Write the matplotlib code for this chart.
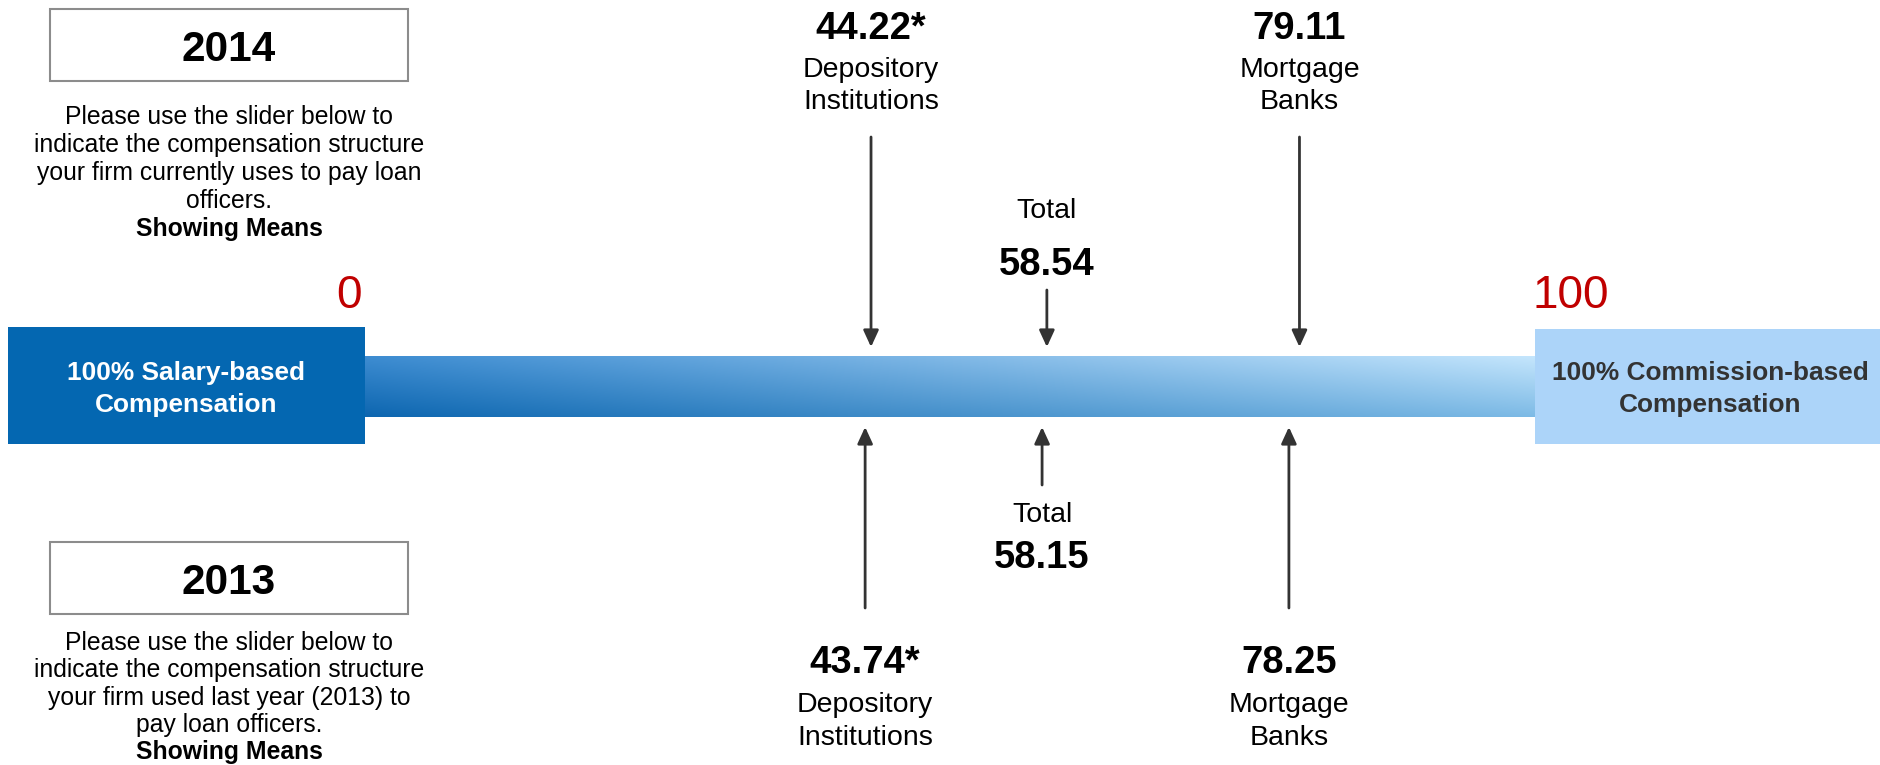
import matplotlib
matplotlib.use('Agg')
import matplotlib.pyplot as plt
from matplotlib.patches import Rectangle
import numpy as np

plt.rcParams['font.family'] = ['Liberation Sans', 'DejaVu Sans']

# survey means, 0 = all salary, 100 = all commission
groups = ['Depository\nInstitutions', 'Total', 'Mortgage\nBanks']
means_2014 = [44.22, 58.54, 79.11]
means_2013 = [43.74, 58.15, 78.25]
flagged = [True, False, False]   # significant difference marker

years = ['2014', '2013']
question_2014 = ['Please use the slider below to',
                 'indicate the compensation structure',
                 'your firm currently uses to pay loan',
                 'officers.']
question_2013 = ['Please use the slider below to',
                 'indicate the compensation structure',
                 'your firm used last year (2013) to',
                 'pay loan officers.']
left_end = '100% Salary-based\nCompensation'
right_end = '100% Commission-based\nCompensation'

W, H = 1881, 765
PX_ZERO, PX_PER_UNIT = 328, 12.28   # where the 0..100 scale sits in pixels

fig = plt.figure(figsize=(W / 100, H / 100), dpi=100)
base = fig.add_axes([0, 0, 1, 1])
base.set_xlim(0, W)
base.set_ylim(H, 0)
base.axis('off')

ax = fig.add_axes([0, 0, 1, 1], facecolor='none')
ax.set_xlim(-PX_ZERO / PX_PER_UNIT, (W - PX_ZERO) / PX_PER_UNIT)
ax.set_ylim(H, 0)
ax.axis('off')

dark = '#333333'
label_fs, value_fs, body_fs = 20.5, 27.5, 17.8

# ---- slider bar with a diagonal blue gradient ----
nx, ny = 400, 60
tx = np.linspace(0, 1, nx)[None, :, None]
ty = np.linspace(0, 1, ny)[:, None, None]
lt = np.array([0.24, 0.55, 0.82]); lb = np.array([0.05, 0.40, 0.69])
rt = np.array([0.77, 0.90, 0.99]); rb = np.array([0.49, 0.73, 0.90])
grad = (1 - tx) * ((1 - ty) * lt + ty * lb) + tx * ((1 - ty) * rt + ty * rb)
base.imshow(grad, extent=(365, 1535, 417, 356), aspect='auto', zorder=1)

# end boxes
base.add_patch(Rectangle((8, 327), 357, 117, facecolor='#0467b1', edgecolor='none', zorder=2))
base.add_patch(Rectangle((1535, 329), 346, 115, facecolor='#acd4f9', edgecolor='none', zorder=2))
for i, line in enumerate(left_end.split('\n')):
    base.text(186, 380 + 32 * i, line, ha='center', va='baseline', fontsize=18.9,
              fontweight='bold', color='white', zorder=3)
for i, line in enumerate(right_end.split('\n')):
    base.text(1710, 380 + 32 * i, line, ha='center', va='baseline', fontsize=18.9,
              fontweight='bold', color=dark, zorder=3)
base.text(362, 308, '0', ha='right', va='baseline', fontsize=33, color='#c00000')
base.text(1533, 308, '100', ha='left', va='baseline', fontsize=33, color='#c00000')

# ---- year boxes and question text ----
for year, question, top, y0, step in [(years[0], question_2014, 9, 124, 28.0),
                                      (years[1], question_2013, 542, 650, 27.3)]:
    base.add_patch(Rectangle((50, top), 358, 72, facecolor='white', edgecolor='#8c8c8c', lw=1.5))
    base.text(229, top + 52, year, ha='center', va='baseline', fontsize=30.5, fontweight='bold')
    for i, line in enumerate(question):
        base.text(229, y0 + step * i, line, ha='center', va='baseline', fontsize=body_fs)
    base.text(229, y0 + step * len(question), 'Showing Means', ha='center', va='baseline',
              fontsize=body_fs, fontweight='bold')

arrow = dict(arrowstyle='-|>,head_length=0.5,head_width=0.23', color=dark, lw=2,
             mutation_scale=20, shrinkA=0, shrinkB=0)

def value_text(v, star):
    return f'{v:.2f}' + ('*' if star else '')

# ---- 2014 above the bar ----
for g, v, star in zip(groups, means_2014, flagged):
    if g == 'Total':
        ax.annotate('', xy=(v, 347), xytext=(v, 290), arrowprops=arrow)
        ax.text(v, 218, g, ha='center', va='baseline', fontsize=label_fs)
        ax.text(v, 275, value_text(v, star), ha='center', va='baseline', fontsize=value_fs, fontweight='bold')
    else:
        ax.annotate('', xy=(v, 347), xytext=(v, 137), arrowprops=arrow)
        ax.text(v, 39, value_text(v, star), ha='center', va='baseline', fontsize=value_fs, fontweight='bold')
        for i, line in enumerate(g.split('\n')):
            ax.text(v, 77 + 32 * i, line, ha='center', va='baseline', fontsize=label_fs)

# ---- 2013 below the bar ----
for g, v, star in zip(groups, means_2013, flagged):
    if g == 'Total':
        ax.annotate('', xy=(v, 427), xytext=(v, 485), arrowprops=arrow)
        ax.text(v, 522, g, ha='center', va='baseline', fontsize=label_fs)
        ax.text(v, 568, value_text(v, star), ha='center', va='baseline', fontsize=value_fs, fontweight='bold')
    else:
        ax.annotate('', xy=(v, 427), xytext=(v, 608), arrowprops=arrow)
        ax.text(v, 673, value_text(v, star), ha='center', va='baseline', fontsize=value_fs, fontweight='bold')
        for i, line in enumerate(g.split('\n')):
            ax.text(v, 712 + 33 * i, line, ha='center', va='baseline', fontsize=label_fs)

fig.savefig('out.png', dpi=100)
